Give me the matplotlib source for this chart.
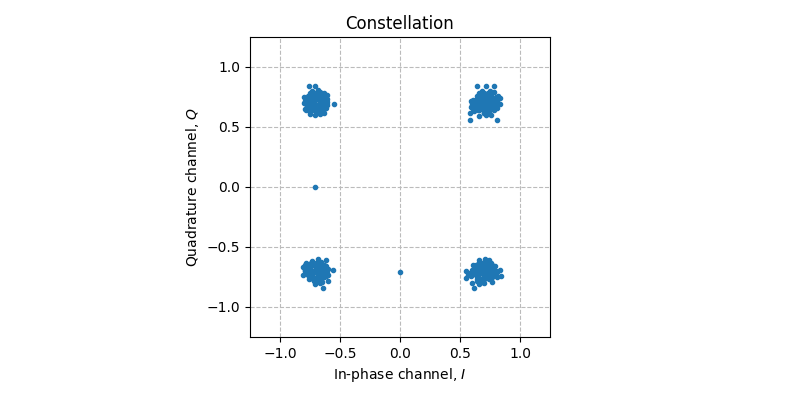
import numpy as np
import matplotlib
matplotlib.use('Agg')
import matplotlib.pyplot as plt

# Received symbols, one set of lists per constellation point
tl_i = [-0.78, -0.74, -0.70, -0.66, -0.63, -0.77, -0.73, -0.69, -0.65, -0.62,
        -0.78, -0.75, -0.71, -0.67, -0.64, -0.77, -0.72, -0.69, -0.66, -0.63,
        -0.76, -0.71, -0.73, -0.68, -0.80, -0.80, -0.79, -0.61, -0.61, -0.62,
        -0.75, -0.71, -0.67, -0.63, -0.55, -0.72, -0.68, -0.74, -0.70,
        -0.76, -0.72, -0.68, -0.645, -0.755, -0.715, -0.675, -0.64,
        -0.76, -0.72, -0.68, -0.645, -0.75, -0.71, -0.67, -0.635,
        -0.79, -0.62, -0.70, -0.66,
        -0.77, -0.73, -0.69, -0.65, -0.61, -0.77, -0.73, -0.69, -0.65,
        -0.77, -0.73, -0.69, -0.65, -0.61, -0.75, -0.71, -0.67,
        -0.785, -0.62]
tl_q = [0.64, 0.65, 0.63, 0.64, 0.65, 0.68, 0.69, 0.67, 0.68, 0.69,
        0.72, 0.71, 0.73, 0.72, 0.71, 0.76, 0.75, 0.77, 0.76, 0.75,
        0.84, 0.84, 0.80, 0.81, 0.75, 0.70, 0.65, 0.77, 0.71, 0.66,
        0.61, 0.60, 0.61, 0.62, 0.69, 0.70, 0.73, 0.78, 0.66,
        0.66, 0.665, 0.655, 0.67, 0.70, 0.705, 0.695, 0.70,
        0.74, 0.735, 0.745, 0.74, 0.78, 0.785, 0.79, 0.78,
        0.72, 0.74, 0.625, 0.63,
        0.645, 0.64, 0.65, 0.645, 0.68, 0.685, 0.69, 0.68, 0.685,
        0.725, 0.72, 0.73, 0.725, 0.73, 0.76, 0.765, 0.765,
        0.69, 0.695]

tr_i = [0.62, 0.66, 0.70, 0.74, 0.78, 0.63, 0.67, 0.71, 0.75, 0.79,
        0.62, 0.66, 0.70, 0.74, 0.78, 0.64, 0.68, 0.72, 0.76, 0.80,
        0.64, 0.72, 0.78, 0.68, 0.75, 0.59, 0.59, 0.83, 0.83,
        0.58, 0.58, 0.81, 0.66, 0.72, 0.76, 0.70, 0.73,
        0.64, 0.68, 0.72, 0.76, 0.645, 0.685, 0.725, 0.765,
        0.64, 0.68, 0.72, 0.76, 0.66, 0.70, 0.74, 0.78,
        0.80, 0.60, 0.81, 0.70,
        0.61, 0.65, 0.69, 0.73, 0.77, 0.65, 0.69, 0.73, 0.77, 0.81,
        0.61, 0.65, 0.69, 0.73, 0.77, 0.67, 0.71, 0.75, 0.60, 0.82]
tr_q = [0.63, 0.64, 0.62, 0.63, 0.64, 0.67, 0.68, 0.67, 0.69, 0.68,
        0.71, 0.72, 0.72, 0.71, 0.72, 0.76, 0.75, 0.76, 0.77, 0.75,
        0.84, 0.84, 0.84, 0.80, 0.80, 0.72, 0.67, 0.74, 0.69,
        0.62, 0.56, 0.555, 0.59, 0.60, 0.60, 0.70, 0.78,
        0.655, 0.66, 0.65, 0.66, 0.695, 0.70, 0.695, 0.705,
        0.735, 0.74, 0.745, 0.735, 0.78, 0.785, 0.78, 0.79,
        0.70, 0.70, 0.66, 0.62,
        0.65, 0.645, 0.65, 0.645, 0.65, 0.685, 0.69, 0.685, 0.69, 0.72,
        0.725, 0.73, 0.725, 0.73, 0.735, 0.765, 0.77, 0.765, 0.685, 0.755]

bl_i = [-0.77, -0.73, -0.69, -0.65, -0.62, -0.78, -0.74, -0.70, -0.66, -0.63,
        -0.77, -0.73, -0.69, -0.65, -0.62, -0.76, -0.72, -0.68, -0.65,
        -0.68, -0.62, -0.73, -0.81, -0.81, -0.78, -0.56, -0.60,
        -0.71, -0.67, -0.64, -0.74, -0.70, -0.66,
        -0.75, -0.71, -0.67, -0.635, -0.76, -0.72, -0.68, -0.64,
        -0.75, -0.71, -0.67, -0.635, -0.74, -0.70, -0.66,
        -0.79, -0.60, -0.60, -0.70, -0.65,
        -0.79, -0.75, -0.71, -0.67, -0.63, -0.79, -0.75, -0.71, -0.67, -0.63,
        -0.77, -0.73, -0.69, -0.65, -0.61, -0.74, -0.70, -0.66, -0.71, -0.68]
bl_q = [-0.65, -0.64, -0.65, -0.64, -0.66, -0.69, -0.70, -0.68, -0.69, -0.70,
        -0.73, -0.74, -0.72, -0.73, -0.74, -0.77, -0.78, -0.77, -0.76,
        -0.60, -0.61, -0.62, -0.67, -0.73, -0.63, -0.69, -0.78,
        -0.81, -0.80, -0.84, -0.76, -0.70, -0.72,
        -0.665, -0.66, -0.67, -0.665, -0.71, -0.705, -0.715, -0.71,
        -0.75, -0.755, -0.745, -0.75, -0.63, -0.63, -0.625,
        -0.70, -0.68, -0.73, -0.79, -0.79,
        -0.65, -0.645, -0.65, -0.645, -0.65, -0.69, -0.685, -0.69, -0.685, -0.69,
        -0.715, -0.72, -0.715, -0.72, -0.715, -0.755, -0.76, -0.755, -0.785, -0.78]

br_i = [0.63, 0.67, 0.71, 0.75, 0.79, 0.62, 0.66, 0.70, 0.74, 0.78,
        0.63, 0.67, 0.71, 0.75, 0.79, 0.64, 0.68, 0.72, 0.76,
        0.66, 0.71, 0.74, 0.55, 0.55, 0.83, 0.84,
        0.60, 0.62, 0.66, 0.70, 0.59, 0.73, 0.77,
        0.65, 0.69, 0.73, 0.77, 0.64, 0.68, 0.72, 0.76,
        0.65, 0.69, 0.73, 0.77, 0.68, 0.72, 0.76,
        0.81, 0.81, 0.60, 0.58, 0.64, 0.68,
        0.61, 0.65, 0.69, 0.73, 0.77, 0.60, 0.64, 0.68, 0.72, 0.76, 0.80,
        0.61, 0.65, 0.69, 0.73, 0.77, 0.66, 0.70, 0.74, 0.57]
br_q = [-0.65, -0.66, -0.64, -0.65, -0.66, -0.69, -0.70, -0.69, -0.68, -0.70,
        -0.73, -0.72, -0.74, -0.73, -0.72, -0.77, -0.78, -0.76, -0.77,
        -0.61, -0.60, -0.61, -0.70, -0.76, -0.69, -0.74,
        -0.80, -0.84, -0.81, -0.80, -0.74, -0.70, -0.79,
        -0.67, -0.675, -0.665, -0.67, -0.71, -0.715, -0.705, -0.71,
        -0.75, -0.755, -0.745, -0.75, -0.63, -0.635, -0.63,
        -0.71, -0.75, -0.71, -0.72, -0.78, -0.79,
        -0.65, -0.645, -0.65, -0.645, -0.65, -0.69, -0.685, -0.69, -0.685, -0.69, -0.70,
        -0.725, -0.73, -0.725, -0.73, -0.735, -0.765, -0.77, -0.765, -0.735]

# Transient samples between the clusters
stray_i = [-0.707, 0.0]
stray_q = [0.0, -0.707]

I = np.concatenate([tl_i, tr_i, bl_i, br_i, stray_i])
Q = np.concatenate([tl_q, tr_q, bl_q, br_q, stray_q])

fig = plt.figure(figsize=(8, 4), dpi=100)
ax = fig.add_axes([0.3125, 0.1575, 0.375, 0.75])
ax.plot(I, Q, '.')
ax.set_xlim(-1.25, 1.25)
ax.set_ylim(-1.25, 1.25)
ax.set_xticks([-1.0, -0.5, 0.0, 0.5, 1.0])
ax.set_yticks([-1.0, -0.5, 0.0, 0.5, 1.0])
ax.grid(True, linestyle='--', color='#bbbbbb')
ax.set_title('Constellation')
ax.set_xlabel('In-phase channel, $I$')
ax.set_ylabel('Quadrature channel, $Q$')

fig.savefig('out.png')
